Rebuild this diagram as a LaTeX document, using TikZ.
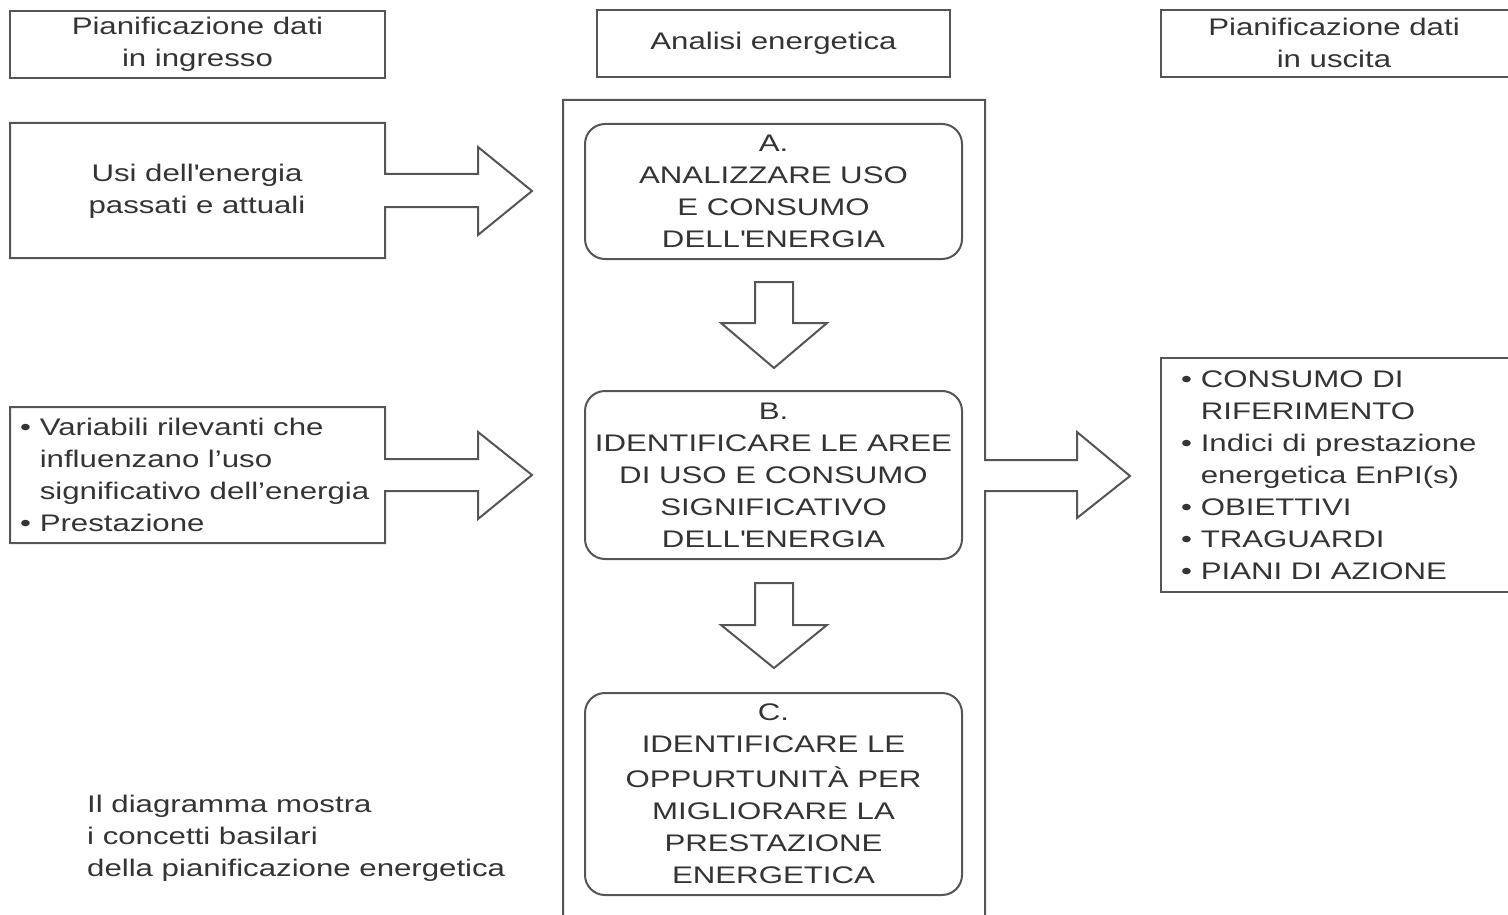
\documentclass[tikz,border=0pt]{standalone}
\usepackage{fontspec}
\setmainfont{Liberation Sans}[FakeStretch=1.3]
% straight typewriter apostrophe
\newcommand\sq{\textquotesingle}
\begin{document}
\begin{tikzpicture}[x=1pt,y=-1pt,
  linec/.style={draw={rgb,255:red,85;green,85;blue,85},line width=2pt,line join=miter},
  lbl/.style={text={rgb,255:red,52;green,52;blue,52},inner sep=0pt,
    font=\fontsize{24}{32}\selectfont},
  hdr/.style={lbl,linec,rectangle,minimum height=67pt},
  rbox/.style={lbl,linec,rectangle,rounded corners=20pt,align=center,
    minimum width=377pt},
  blockarrow/.style={linec,fill=white}]
\useasboundingbox (0,0) rectangle (1508,915);
\clip (0,0) rectangle (1508,915);

% column headers
\node[hdr,minimum width=375pt,align=center] (hin) at (197.5,44.5)
  {Pianificazione dati\\in ingresso};
\node[hdr,minimum width=353pt] (hmid) at (773.5,43.5) {Analisi energetica};
\draw[linec] (1530,10) -- (1161,10) -- (1161,77) -- (1530,77);
\node[lbl,align=center] (hout) at (1334,43) {Pianificazione dati\\in uscita};

% input box 1 with its block arrow
\draw[linec] (10,123) -- (385,123) -- (385,174) -- (478,174) -- (478,147)
  -- (532,191) -- (478,235) -- (478,207) -- (385,207) -- (385,258)
  -- (10,258) -- cycle;
\node[lbl,align=center] (in1) at (197,191) {Usi dell\sq energia\\passati e attuali};

% input box 2 with its block arrow
\draw[linec] (10,407) -- (385,407) -- (385,459) -- (478,459) -- (478,432)
  -- (532,475) -- (478,519) -- (478,491) -- (385,491) -- (385,543)
  -- (10,543) -- cycle;
\node[lbl,align=left,anchor=west] (in2) at (20,474.5)
  {\textbullet\ Variabili rilevanti che\\
   \phantom{\textbullet\ }influenzano l'uso\\
   \phantom{\textbullet\ }significativo dell'energia\\
   \textbullet\ Prestazione};

% central frame with the outgoing block arrow
\draw[linec] (563,930) -- (563,100) -- (985,100) -- (985,460) -- (1077,460)
  -- (1077,432) -- (1130,476) -- (1077,518) -- (1077,491) -- (985,491)
  -- (985,930);

% process steps
\node[rbox,minimum height=135pt] (A) at (773.5,191.5)
  {A.\\ANALIZZARE USO\\E CONSUMO\\DELL\sq ENERGIA};
\node[rbox,minimum height=168pt] (B) at (773.5,475)
  {B.\\IDENTIFICARE LE AREE\\DI USO E CONSUMO\\SIGNIFICATIVO\\DELL\sq ENERGIA};
\node[rbox,minimum height=202pt] (C) at (773.5,794)
  {C.\\IDENTIFICARE LE\\[3pt]OPPURTUNITÀ PER\\MIGLIORARE LA\\PRESTAZIONE\\ENERGETICA};

% down arrows between the steps
\draw[blockarrow] (755,282) -- (793,282) -- (793,323) -- (827,323) -- (774,368)
  -- (721,323) -- (755,323) -- cycle;
\draw[blockarrow] (755,583) -- (793,583) -- (793,625) -- (827,625) -- (774,668)
  -- (721,625) -- (755,625) -- cycle;

% outputs
\draw[linec] (1530,358) -- (1161,358) -- (1161,592) -- (1530,592);
\node[lbl,align=left,anchor=west] (out) at (1181,475)
  {\textbullet\ CONSUMO DI\\
   \phantom{\textbullet\ }RIFERIMENTO\\
   \textbullet\ Indici di prestazione\\
   \phantom{\textbullet\ }energetica EnPI(s)\\
   \textbullet\ OBIETTIVI\\
   \textbullet\ TRAGUARDI\\
   \textbullet\ PIANI DI AZIONE};

% caption
\node[lbl,align=left,anchor=west] (note) at (87,838)
  {Il diagramma mostra\\i concetti basilari\\della pianificazione energetica};
\end{tikzpicture}
\end{document}
